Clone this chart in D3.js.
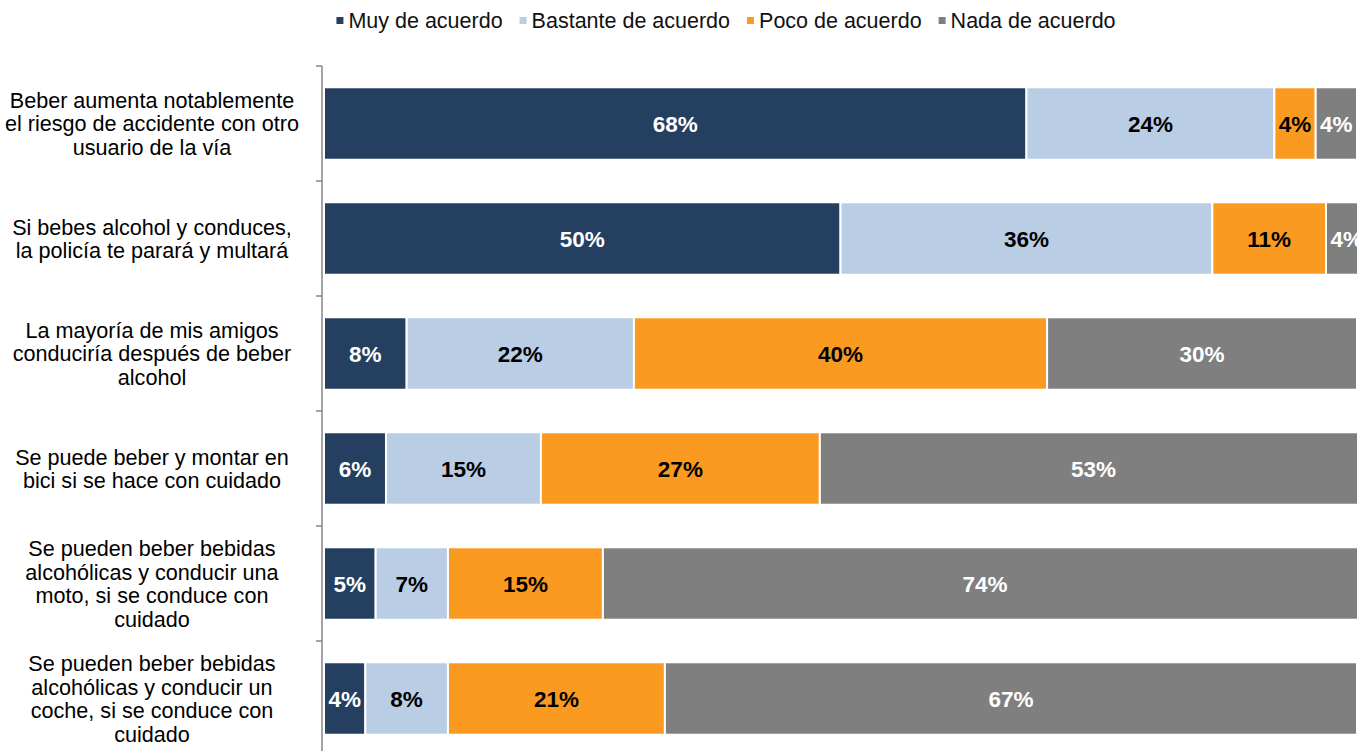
<!DOCTYPE html>
<html>
<head>
<meta charset="utf-8">
<script src="https://cdnjs.cloudflare.com/ajax/libs/d3/7.8.5/d3.min.js"></script>
<style>
  body { margin: 0; background: #fff; }
  svg { font-family: "Liberation Sans", Arial, sans-serif; }
</style>
</head>
<body>
<div id="chart"></div>
<script>
var series = ["Muy de acuerdo", "Bastante de acuerdo", "Poco de acuerdo", "Nada de acuerdo"];
var colors = ["#253F60", "#B9CDE5", "#FA9A20", "#7F7F7F"];
var labelColors = ["#fff", "#000", "#000", "#fff"];

var categories = [
  ["Beber aumenta notablemente", "el riesgo de accidente con otro", "usuario de la vía"],
  ["Si bebes alcohol y conduces,", "la policía te parará y multará"],
  ["La mayoría de mis amigos", "conduciría después de beber", "alcohol"],
  ["Se puede beber y montar en", "bici si se hace con cuidado"],
  ["Se pueden beber bebidas", "alcohólicas y conducir una", "moto, si se conduce con", "cuidado"],
  ["Se pueden beber bebidas", "alcohólicas y conducir un", "coche, si se conduce con", "cuidado"]
];

var muy      = [68, 50, 8, 6, 5, 4];
var bastante = [24, 36, 22, 15, 7, 8];
var poco     = [4, 11, 40, 27, 15, 21];
var nada     = [4, 4, 30, 53, 74, 67];

var values = [muy, bastante, poco, nada];

var width = 1363, height = 751;
var plotLeft = 324, plotRight = 1357, plotTop = 66;

var svg = d3.select("#chart")
  .append("svg")
    .attr("width", width)
    .attr("height", height);

var x = d3.scaleLinear()
  .domain([0, 100])
  .range([plotLeft, plotRight]);

var y = d3.scaleBand()
  .domain(d3.range(categories.length))
  .range([plotTop, plotTop + 115 * categories.length])
  .paddingInner(0.37)
  .paddingOuter(0.185);

svg.append("clipPath")
    .attr("id", "plot")
  .append("rect")
    .attr("x", plotLeft)
    .attr("y", 0)
    .attr("width", plotRight - plotLeft)
    .attr("height", height);

// stack rows
var rows = categories.map(function(c, i) {
  var start = 0;
  return values.map(function(v, s) {
    var seg = {row: i, s: s, x0: start, x1: start + v[i], v: v[i]};
    start += v[i];
    return seg;
  });
});

var plot = svg.append("g").attr("clip-path", "url(#plot)");

plot.selectAll("g.row")
  .data(rows)
  .enter().append("g")
    .attr("class", "row")
  .selectAll("rect")
  .data(function(d) { return d; })
  .enter().append("rect")
    .attr("x", function(d) { return x(d.x0); })
    .attr("y", function(d) { return y(d.row); })
    .attr("width", function(d) { return x(d.x1) - x(d.x0); })
    .attr("height", y.bandwidth())
    .attr("fill", function(d) { return colors[d.s]; })
    .attr("stroke", "#fff")
    .attr("stroke-width", 2);

plot.selectAll("text.val")
  .data(d3.merge(rows))
  .enter().append("text")
    .attr("class", "val")
    .attr("x", function(d) { return (x(d.x0) + x(d.x1)) / 2; })
    .attr("y", function(d) { return y(d.row) + y.bandwidth() / 2; })
    .attr("dy", "0.36em")
    .attr("text-anchor", "middle")
    .attr("font-size", 22.5)
    .attr("font-weight", "bold")
    .attr("fill", function(d) { return labelColors[d.s]; })
    .text(function(d) { return d.v + "%"; });

// axis line with ticks between categories
svg.append("line")
  .attr("x1", plotLeft - 2).attr("x2", plotLeft - 2)
  .attr("y1", plotTop).attr("y2", height + 10)
  .attr("stroke", "#868686")
  .attr("stroke-width", 1.5);

svg.selectAll("line.tick")
  .data(d3.range(categories.length + 1))
  .enter().append("line")
    .attr("class", "tick")
    .attr("x1", plotLeft - 8).attr("x2", plotLeft - 2)
    .attr("y1", function(d) { return plotTop + d * y.step(); })
    .attr("y2", function(d) { return plotTop + d * y.step(); })
    .attr("stroke", "#868686")
    .attr("stroke-width", 1.5);

// category labels
var lineH = 23.5;
svg.selectAll("text.cat")
  .data(categories)
  .enter().append("text")
    .attr("class", "cat")
    .attr("text-anchor", "middle")
    .attr("font-size", 21.6)
    .attr("fill", "#000")
    .each(function(d, i) {
      var cy = y(i) + y.bandwidth() / 2 - (d.length - 1) * lineH / 2;
      d3.select(this).selectAll("tspan")
        .data(d)
        .enter().append("tspan")
          .attr("x", 152)
          .attr("y", function(t, j) { return cy + j * lineH; })
          .attr("dy", "0.36em")
          .text(function(t) { return t; });
    });

// legend
var legend = svg.append("g");
var lx = 0;
series.forEach(function(name, i) {
  var g = legend.append("g").attr("transform", "translate(" + lx + ",0)");
  g.append("rect")
    .attr("x", 0).attr("y", 17)
    .attr("width", 7).attr("height", 7)
    .attr("fill", colors[i]);
  var t = g.append("text")
    .attr("x", 12).attr("y", 20)
    .attr("dy", "0.36em")
    .attr("font-size", 21.5)
    .attr("fill", "#111")
    .text(name);
  lx += 12 + t.node().getComputedTextLength() + 17;
});
legend.attr("transform", "translate(" + (726 - (lx - 17) / 2) + ",0)");
</script>
</body>
</html>
